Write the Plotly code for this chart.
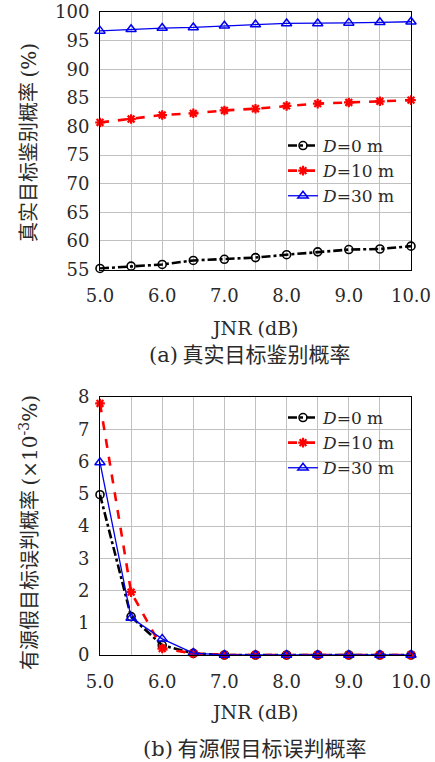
import plotly.graph_objects as go

# ---------------- data ----------------
jnr = [5.0, 5.5, 6.0, 6.5, 7.0, 7.5, 8.0, 8.5, 9.0, 9.5, 10.0]
x_ticks = [5.0, 6.0, 7.0, 8.0, 9.0, 10.0]
x_tick_labels = ["5.0", "6.0", "7.0", "8.0", "9.0", "10.0"]
series_names = ["<i>D</i>=0 m", "<i>D</i>=10 m", "<i>D</i>=30 m"]

# (a) true target discrimination probability (%)
pa_d0 = [55.2, 55.6, 55.9, 56.6, 56.8, 57.1, 57.6, 58.1, 58.5, 58.6, 59.1]
pa_d10 = [80.7, 81.3, 82.0, 82.3, 82.8, 83.1, 83.6, 84.0, 84.2, 84.4, 84.6]
pa_d30 = [96.7, 97.0, 97.2, 97.3, 97.6, 97.8, 98.0, 98.0, 98.1, 98.2, 98.3]
ya_ticks = [55, 60, 65, 70, 75, 80, 85, 90, 95, 100]

# (b) active false target misjudgment probability (x10^-3 %)
pb_d0 = [4.97, 1.19, 0.30, 0.05, 0.0, 0.0, 0.0, 0.0, 0.0, 0.0, 0.0]
pb_d10 = [7.80, 1.95, 0.20, 0.05, 0.0, 0.0, 0.0, 0.0, 0.0, 0.0, 0.0]
pb_d30 = [5.97, 1.15, 0.50, 0.06, 0.0, 0.0, 0.0, 0.0, 0.0, 0.0, 0.0]
yb_ticks = [0, 1, 2, 3, 4, 5, 6, 7, 8]

# ---------------- styling ----------------
W, H = 435, 762
FONT = "DejaVu Serif"
CJK = "Noto Sans CJK SC"
TXT = "#2a2a2a"

styles = [
    dict(color="black", dash="dashdot", width=2.6, symbol="circle-open", msize=8, mlw=1.6),
    dict(color="#ff0000", dash="dash", width=2.6, symbol="asterisk-open", msize=8, mlw=2.2),
    dict(color="#0000ee", dash="solid", width=1.3, symbol="triangle-up-open", msize=9, mlw=1.5),
]

fig = go.Figure()

def add_series(ys_list, xaxis, yaxis, legend):
    for name, ys, st in zip(series_names, ys_list, styles):
        fig.add_trace(go.Scatter(
            x=jnr, y=ys, name=name, mode="lines+markers",
            xaxis=xaxis, yaxis=yaxis, legend=legend, cliponaxis=False,
            line=dict(color=st["color"], dash=st["dash"], width=st["width"]),
            marker=dict(symbol=st["symbol"], size=st["msize"], color=st["color"],
                        line=dict(color=st["color"], width=st["mlw"])),
        ))

add_series([pa_d0, pa_d10, pa_d30], "x", "y", "legend")
add_series([pb_d0, pb_d10, pb_d30], "x2", "y2", "legend2")

def px_x(p):
    return p / W

def px_y(p):
    return 1 - p / H

xdom = [px_x(100), px_x(411)]
grid_col = "#c0c0c0"

xcommon = dict(
    range=[5, 10], tickvals=x_ticks, ticktext=x_tick_labels,
    showgrid=True, gridcolor=grid_col, gridwidth=1,
    minor=dict(dtick=0.5, tick0=5, showgrid=True, gridcolor=grid_col, gridwidth=1),
    showline=True, linecolor="black", linewidth=1, mirror=True,
    ticks="", zeroline=False, ticklabelstandoff=10,
    tickfont=dict(family=FONT, size=18, color=TXT),
    automargin=False,
)
ycommon = dict(
    showgrid=True, gridcolor=grid_col, gridwidth=1,
    showline=True, linecolor="black", linewidth=1, mirror=True,
    ticks="", zeroline=False, ticklabelstandoff=6,
    tickfont=dict(family=FONT, size=18, color=TXT),
    automargin=False,
)

fig.update_layout(
    width=W, height=H, autosize=False,
    margin=dict(l=0, r=0, t=0, b=0, pad=0),
    paper_bgcolor="white", plot_bgcolor="white",
    font=dict(family=FONT, color=TXT),
    xaxis=dict(domain=xdom, anchor="y", **xcommon),
    yaxis=dict(domain=[px_y(269.6), px_y(12)], anchor="x", range=[55, 100],
               tickvals=ya_ticks, **ycommon),
    xaxis2=dict(domain=xdom, anchor="y2", **xcommon),
    yaxis2=dict(domain=[px_y(655), px_y(397)], anchor="x2", range=[0, 8],
                tickvals=yb_ticks, **ycommon),
    legend=dict(x=px_x(283), y=px_y(128), xanchor="left", yanchor="top",
                bgcolor="rgba(255,255,255,0)", borderwidth=0,
                font=dict(family=FONT, size=17, color=TXT),
                tracegroupgap=0, itemwidth=30),
    legend2=dict(x=px_x(283), y=px_y(400), xanchor="left", yanchor="top",
                 bgcolor="rgba(255,255,255,0)", borderwidth=0,
                 font=dict(family=FONT, size=17, color=TXT),
                 tracegroupgap=0, itemwidth=30),
)

SER = "<span style='font-family:DejaVu Serif'>"
annots = [
    dict(text="JNR (dB)", x=px_x(255), y=px_y(328), font=dict(family=FONT, size=19, color=TXT)),
    dict(text=SER + "(a)</span> 真实目标鉴别概率", x=px_x(250), y=px_y(353),
         font=dict(family=CJK, size=21, color=TXT)),
    dict(text="JNR (dB)", x=px_x(255), y=px_y(712), font=dict(family=FONT, size=19, color=TXT)),
    dict(text=SER + "(b)</span> 有源假目标误判概率", x=px_x(255), y=px_y(747),
         font=dict(family=CJK, size=21, color=TXT)),
    dict(text="真实目标鉴别概率 " + SER + "(%)</span>", x=px_x(28), y=px_y(143), textangle=-90,
         font=dict(family=CJK, size=20, color=TXT)),
    dict(text="有源假目标误判概率 " + SER + "(×10<sup>-3</sup>%)</span>", x=px_x(28), y=px_y(533),
         textangle=-90, font=dict(family=CJK, size=20, color=TXT)),
]
for a in annots:
    fig.add_annotation(xref="paper", yref="paper", showarrow=False,
                       xanchor="center", yanchor="middle", **a)

fig.write_html(
    "out.html",
    config={"displayModeBar": False},
    post_script=(
        "document.documentElement.style.margin='0';"
        "document.documentElement.style.overflow='hidden';"
        "document.body.style.margin='0';"
        "document.body.style.overflow='hidden';"
    ),
)
